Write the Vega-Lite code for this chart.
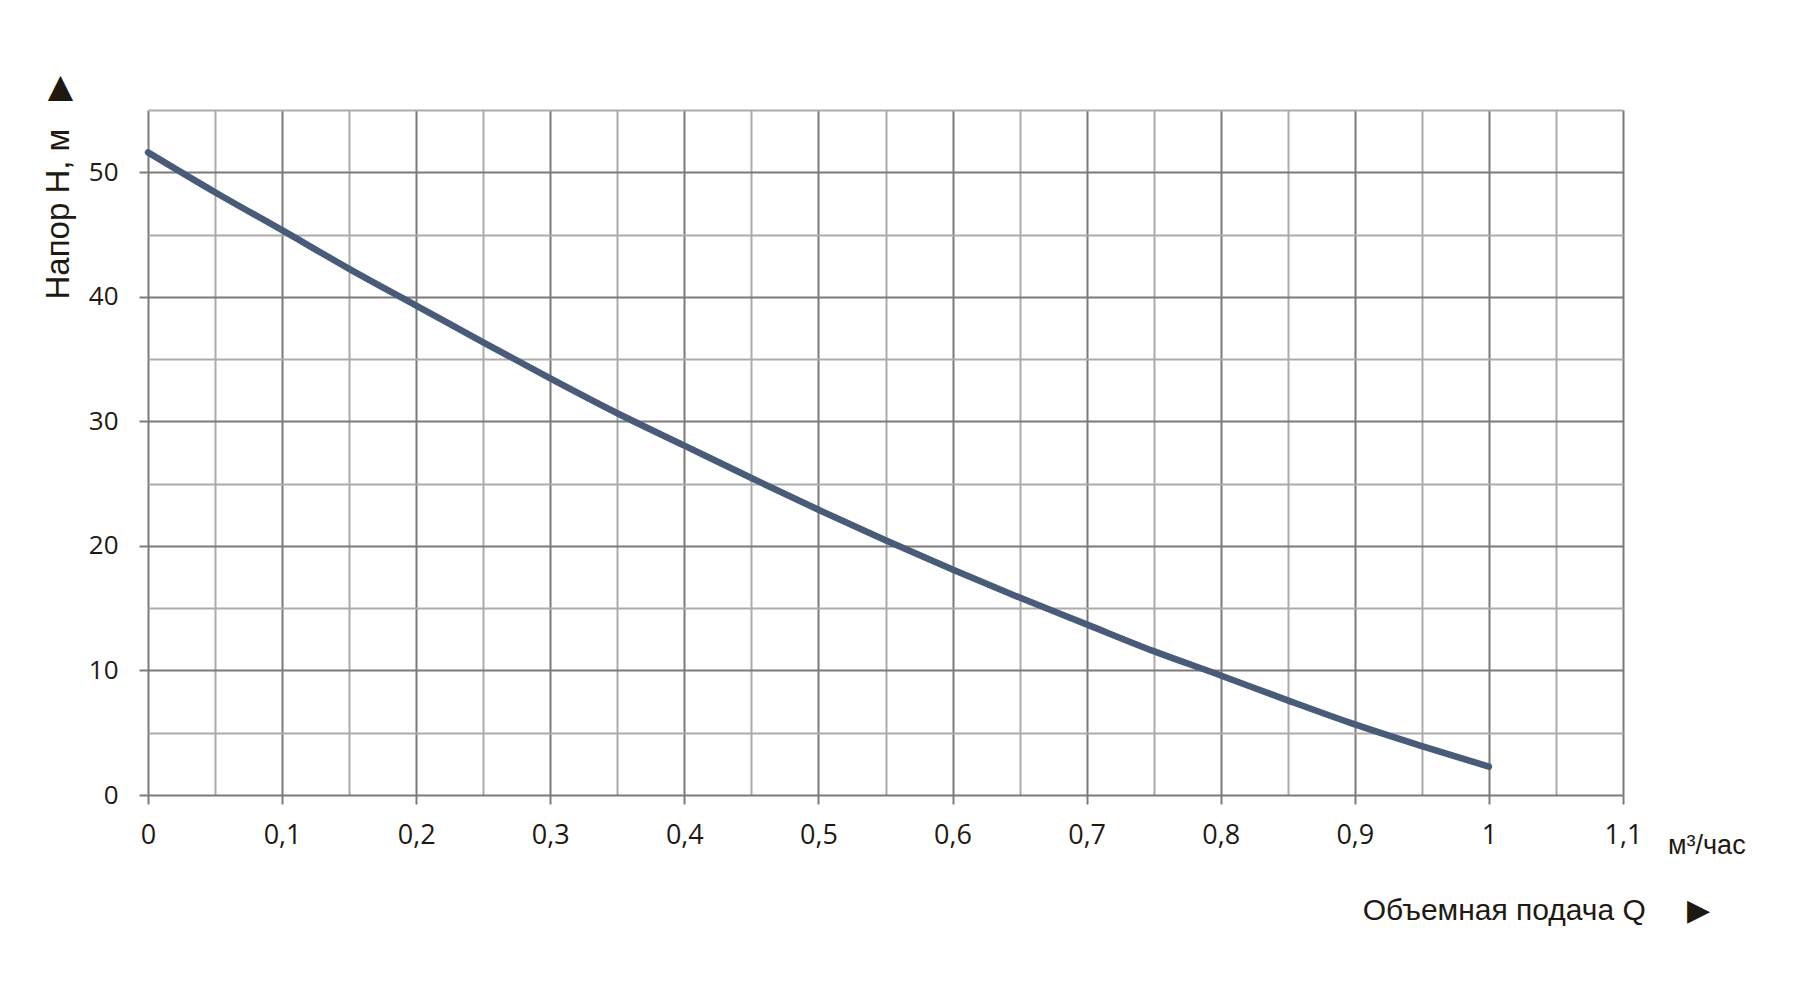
{
  "$schema": "https://vega.github.io/schema/vega-lite/v6.json",
  "autosize": "none",
  "width": 1475,
  "height": 685,
  "padding": {"left": 148, "top": 110, "right": 177, "bottom": 207},
  "background": "white",
  "config": {"view": {"stroke": null}},
  "data": {"values": [
    {"q": 0, "h": 51.6},
    {"q": 0.05, "h": 48.4},
    {"q": 0.1, "h": 45.35},
    {"q": 0.15, "h": 42.25},
    {"q": 0.2, "h": 39.3},
    {"q": 0.25, "h": 36.35},
    {"q": 0.3, "h": 33.45},
    {"q": 0.35, "h": 30.65},
    {"q": 0.4, "h": 28.05},
    {"q": 0.45, "h": 25.45},
    {"q": 0.5, "h": 22.9},
    {"q": 0.55, "h": 20.45},
    {"q": 0.6, "h": 18.1},
    {"q": 0.65, "h": 15.85},
    {"q": 0.7, "h": 13.7},
    {"q": 0.75, "h": 11.55},
    {"q": 0.8, "h": 9.6},
    {"q": 0.85, "h": 7.6},
    {"q": 0.9, "h": 5.67},
    {"q": 0.95, "h": 3.93},
    {"q": 1.0, "h": 2.27}
  ]},
  "layer": [
    {
      "mark": {"type": "line", "color": "#485c7a", "strokeWidth": 6.5, "strokeCap": "round", "interpolate": "monotone"},
      "encoding": {
        "x": {
          "field": "q", "type": "quantitative",
          "scale": {"domain": [0, 1.1], "nice": false, "zero": false},
          "axis": {
            "values": [0, 0.05, 0.1, 0.15, 0.2, 0.25, 0.3, 0.35, 0.4, 0.45, 0.5, 0.55, 0.6, 0.65, 0.7, 0.75, 0.8, 0.85, 0.9, 0.95, 1, 1.05, 1.1],
            "domain": false,
            "grid": true,
            "gridWidth": 2,
            "gridColor": {"condition": {"test": "abs(datum.value*10 - round(datum.value*10)) < 0.001", "value": "#7a7a7a"}, "value": "#ababab"},
            "ticks": true,
            "tickSize": 9,
            "tickWidth": 2,
            "tickColor": {"condition": {"test": "abs(datum.value*10 - round(datum.value*10)) < 0.001", "value": "#7a7a7a"}, "value": "transparent"},
            "labelExpr": "abs(datum.value*10 - round(datum.value*10)) < 0.001 ? replace(format(datum.value, '~g'), '.', ',') : ''",
            "labelFont": "Open Sans",
            "labelFontSize": 27,
            "labelColor": "#1e1a12",
            "labelPadding": 18,
            "labelFlush": false,
            "labelOverlap": false,
            "title": "Объемная подача Q\u00a0\u00a0\u00a0\u00a0\u00a0▶",
            "titleFont": "Liberation Sans",
            "titleFontSize": 30,
            "titleFontWeight": "normal",
            "titleColor": "#1e1a12",
            "titleAlign": "right",
            "titleAnchor": null,
            "titleBaseline": "alphabetic",
            "titleX": 1562,
            "titleY": 124
          }
        },
        "y": {
          "field": "h", "type": "quantitative",
          "scale": {"domain": [0, 55], "nice": false},
          "axis": {
            "values": [0, 5, 10, 15, 20, 25, 30, 35, 40, 45, 50, 55],
            "domain": false,
            "grid": true,
            "gridWidth": 2,
            "gridColor": {"condition": {"test": "datum.value % 10 === 0", "value": "#7a7a7a"}, "value": "#ababab"},
            "ticks": true,
            "tickSize": 9,
            "tickWidth": 2,
            "tickColor": {"condition": {"test": "datum.value % 10 === 0", "value": "#7a7a7a"}, "value": "transparent"},
            "labelExpr": "datum.value % 10 === 0 ? datum.label : ''",
            "labelFont": "Open Sans",
            "labelFontSize": 26,
            "labelColor": "#1e1a12",
            "labelPadding": 21,
            "labelFlush": false,
            "labelOverlap": false,
            "title": "Напор Н, м\u00a0\u00a0\u00a0▶",
            "titleFont": "Liberation Sans",
            "titleFontSize": 33,
            "titleFontWeight": "normal",
            "titleColor": "#1e1a12",
            "titleAngle": 270,
            "titleAlign": "left",
            "titleAnchor": null,
            "titleBaseline": "alphabetic",
            "titleX": -80,
            "titleY": 189
          }
        }
      }
    },
    {
      "data": {"values": [{}]},
      "mark": {"type": "text", "align": "left", "baseline": "middle", "dx": 45, "dy": 51, "font": "Liberation Sans", "fontSize": 27, "color": "#1e1a12"},
      "encoding": {
        "x": {"datum": 1.1, "type": "quantitative"},
        "y": {"datum": 0, "type": "quantitative"},
        "text": {"value": "м³/час"}
      }
    }
  ]
}
